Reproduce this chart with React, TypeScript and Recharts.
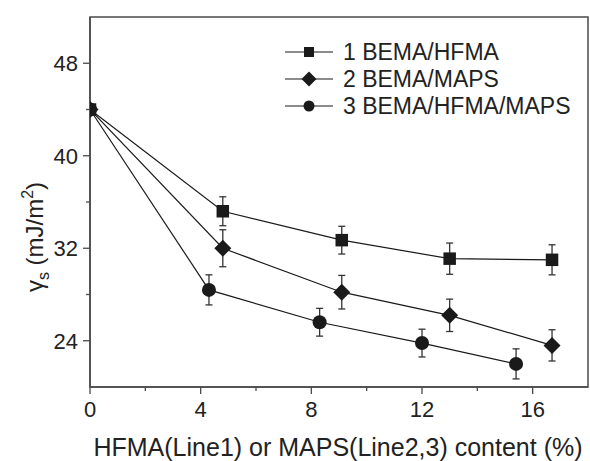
import React from "react";
import {
  LineChart,
  Line,
  XAxis,
  YAxis,
  ErrorBar,
  ReferenceArea,
  Customized,
} from "recharts";

// x = HFMA or MAPS content (%), y = surface energy (mJ/m2), err = error bar half height
const hfmaX = [0, 4.8, 9.1, 13.0, 16.7];
const hfmaY = [44.0, 35.2, 32.7, 31.1, 31.0];
const hfmaErr = [0, 1.25, 1.2, 1.35, 1.3];

const mapsX = [0, 4.8, 9.1, 13.0, 16.7];
const mapsY = [44.0, 32.0, 28.2, 26.2, 23.6];
const mapsErr = [0, 1.6, 1.45, 1.4, 1.35];

const mixX = [0, 4.3, 8.3, 12.0, 15.4];
const mixY = [44.0, 28.4, 25.6, 23.8, 22.0];
const mixErr = [0, 1.3, 1.2, 1.2, 1.3];

const xTicks = [0, 2, 4, 6, 8, 10, 12, 14, 16];
const yTicks = [24, 28, 32, 36, 40, 44, 48];

const legendNames = ["1 BEMA/HFMA", "2 BEMA/MAPS", "3 BEMA/HFMA/MAPS"];
const xTitle = "HFMA(Line1) or MAPS(Line2,3) content (%)";

const FONT = '"Liberation Sans", Arial, sans-serif';
const AXIS = "#4a4a4a";
const INK = "#1a1a1a";
const TEXT = "#222";

const toRows = (xs: number[], ys: number[], errs: number[]) =>
  xs.map((x, i) => ({ x, y: ys[i], err: errs[i] }));

const s1 = toRows(hfmaX, hfmaY, hfmaErr);
const s2 = toRows(mapsX, mapsY, mapsErr);
const s3 = toRows(mixX, mixY, mixErr);

type Shape = "square" | "diamond" | "circle";

function Marker({ cx, cy, shape, size }: { cx: number; cy: number; shape: Shape; size: number }) {
  if (shape === "square")
    return <rect x={cx - size / 2} y={cy - size / 2} width={size} height={size} fill={INK} />;
  if (shape === "diamond")
    return (
      <polygon
        points={`${cx},${cy - size} ${cx + size},${cy} ${cx},${cy + size} ${cx - size},${cy}`}
        fill={INK}
      />
    );
  return <circle cx={cx} cy={cy} r={size} fill={INK} />;
}

const dotFor = (shape: Shape, size: number) => (p: any) =>
  <Marker key={`d-${shape}-${p.index}`} cx={p.cx} cy={p.cy} shape={shape} size={size} />;

function XTick(props: any) {
  const { x, y, payload } = props;
  const major = payload.value % 4 === 0;
  return (
    <g>
      <line x1={x} x2={x} y1={y} y2={y + (major ? 7 : 4)} stroke={AXIS} strokeWidth={1.3} />
      {major && (
        <text x={x} y={y + 30} textAnchor="middle" fontSize={22} fill={TEXT} fontFamily={FONT}>
          {payload.value}
        </text>
      )}
    </g>
  );
}

function YTick(props: any) {
  const { x, y, payload } = props;
  const major = payload.value % 8 === 0;
  return (
    <g>
      <line x1={x} x2={x - (major ? 7 : 4)} y1={y} y2={y} stroke={AXIS} strokeWidth={1.3} />
      {major && (
        <text x={x - 12} y={y + 8} textAnchor="end" fontSize={22} fill={TEXT} fontFamily={FONT}>
          {payload.value}
        </text>
      )}
    </g>
  );
}

function YTitle() {
  return (
    <text
      transform="translate(43,237) rotate(-90)"
      textAnchor="middle"
      fontSize={24}
      fill={TEXT}
      fontFamily={FONT}
    >
      γ
      <tspan fontSize={16} dy={6}>s</tspan>
      <tspan dy={-6}> (mJ/m</tspan>
      <tspan fontSize={16} dy={-10}>2</tspan>
      <tspan dy={10}>)</tspan>
    </text>
  );
}

function XTitle() {
  return (
    <text x={338} y={456} textAnchor="middle" fontSize={25} fill={TEXT} fontFamily={FONT}>
      {xTitle}
    </text>
  );
}

function LegendBox() {
  const shapes: Shape[] = ["square", "diamond", "circle"];
  const sizes = [10, 7.5, 5.5];
  return (
    <g>
      {legendNames.map((name, i) => {
        const y = 52 + 27 * i;
        return (
          <g key={name}>
            <line x1={285} x2={333} y1={y} y2={y} stroke={INK} strokeWidth={1.2} />
            <Marker cx={309} cy={y} shape={shapes[i]} size={sizes[i]} />
            <text x={343} y={y + 8} fontSize={23} fill={TEXT} fontFamily={FONT}>
              {name}
            </text>
          </g>
        );
      })}
    </g>
  );
}

export default function App() {
  return (
    <div style={{ width: 590, height: 461, background: "#fff" }}>
      <style>{"body{margin:0}"}</style>
      <LineChart width={590} height={461} margin={{ top: 17, right: 2, bottom: 0, left: 0 }}>
        <XAxis
          type="number"
          dataKey="x"
          domain={[0, 18]}
          ticks={xTicks}
          interval={0}
          allowDataOverflow
          height={74}
          tickSize={0}
          tickMargin={0}
          tick={<XTick />}
          stroke={AXIS}
          strokeWidth={1.5}
        />
        <YAxis
          type="number"
          domain={[20, 52]}
          ticks={yTicks}
          interval={0}
          allowDataOverflow
          width={90}
          tickSize={0}
          tickMargin={0}
          tick={<YTick />}
          stroke={AXIS}
          strokeWidth={1.5}
        />
        <ReferenceArea
          x1={0}
          x2={18}
          y1={20}
          y2={52}
          fill="none"
          fillOpacity={0}
          stroke={AXIS}
          strokeWidth={1.5}
        />
        <Line
          data={s1}
          dataKey="y"
          stroke={INK}
          strokeWidth={1.2}
          dot={dotFor("square", 12.5)}
          activeDot={false}
          isAnimationActive={false}
        >
          <ErrorBar dataKey="err" direction="y" width={3.5} stroke="#333" strokeWidth={1.3} />
        </Line>
        <Line
          data={s2}
          dataKey="y"
          stroke={INK}
          strokeWidth={1.2}
          dot={dotFor("diamond", 8.5)}
          activeDot={false}
          isAnimationActive={false}
        >
          <ErrorBar dataKey="err" direction="y" width={3.5} stroke="#333" strokeWidth={1.3} />
        </Line>
        <Line
          data={s3}
          dataKey="y"
          stroke={INK}
          strokeWidth={1.2}
          dot={dotFor("circle", 7)}
          activeDot={false}
          isAnimationActive={false}
        >
          <ErrorBar dataKey="err" direction="y" width={3.5} stroke="#333" strokeWidth={1.3} />
        </Line>
        <Customized component={<YTitle />} />
        <Customized component={<XTitle />} />
        <Customized component={<LegendBox />} />
      </LineChart>
    </div>
  );
}
